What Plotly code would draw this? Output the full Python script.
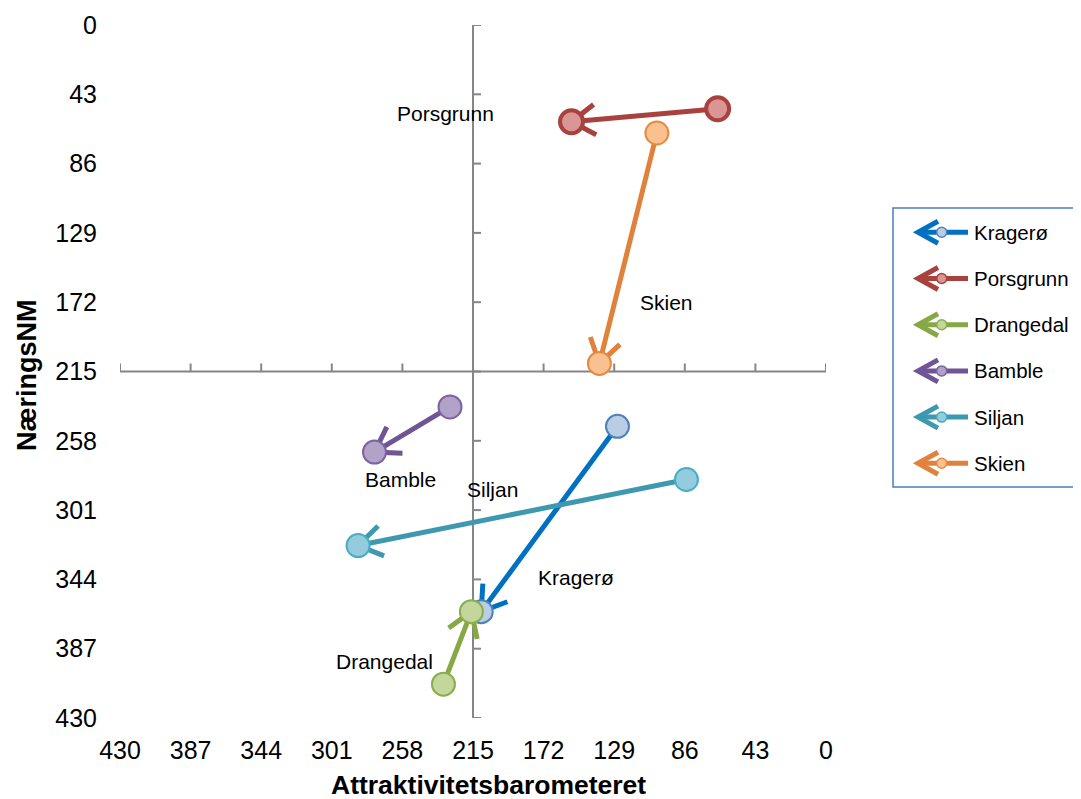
import math
import plotly.graph_objects as go

# ---------------- data ----------------
names = ["Kragerø", "Porsgrunn", "Drangedal", "Bamble", "Siljan", "Skien"]
x_start = [127, 66, 233, 229, 85, 103]     # Attraktivitetsbarometeret (start)
y_start = [249, 52, 409, 237, 282, 67]     # NæringsNM (start)
x_end = [210, 155, 216, 275, 285, 138]     # Attraktivitetsbarometeret (end)
y_end = [364, 60, 364, 265, 323, 210]      # NæringsNM (end)

label_x = [152, 232, 269, 259, 203, 97]
label_y = [343, 55, 395, 282, 288, 172]

tick_vals = [0, 43, 86, 129, 172, 215, 258, 301, 344, 387, 430]
tick_text = [str(v) for v in tick_vals]
axis_cross = 215

# ---------------- styles ----------------
line_colors = ["#0070C0", "#A9423F", "#86A846", "#6F5596", "#3E98B0", "#E0823C"]
fill_colors = ["#B9CDE5", "#D99694", "#C3D69B", "#B3A2C7", "#93CDDD", "#FAC090"]
edge_colors = ["#4F81BD", "#A9423F", "#8AAE4E", "#7B63A1", "#4BACC6", "#E68A3E"]
edge_widths = [2, 4, 2, 2, 2, 2]

OFF = 8  # page body margin
W, H = 1081 - OFF, 799 - OFF
PW, PH = 706, 693
ML, MT = 120 - OFF, 25 - OFF
MR = W - ML - PW
MB = H - MT - PH
XR = [430, 0]
YR = [430, 0]
kx = PW / abs(XR[0] - XR[1])
ky = PH / abs(YR[0] - YR[1])
FONT = "Liberation Sans, Arial, sans-serif"


def wings(xs, ys, xe, ye, length=28, ang=33):
    # direction (pixel space) from end back to start
    dx = -(xs - xe) * kx
    dy = (ys - ye) * ky
    n = math.hypot(dx, dy)
    dx, dy = dx / n, dy / n
    pts = []
    for s in (1, -1):
        a = math.radians(ang * s)
        wx = (dx * math.cos(a) - dy * math.sin(a)) * length
        wy = (dx * math.sin(a) + dy * math.cos(a)) * length
        pts.append((xe - wx / kx, ye + wy / ky))
    return pts


fig = go.Figure()

for i, nm in enumerate(names):
    (w1x, w1y), (w2x, w2y) = wings(x_start[i], y_start[i], x_end[i], y_end[i])
    fig.add_trace(go.Scatter(
        x=[x_start[i], x_end[i], None, w1x, x_end[i], w2x],
        y=[y_start[i], y_end[i], None, w1y, y_end[i], w2y],
        mode="lines", line=dict(color=line_colors[i], width=5),
        hoverinfo="skip", showlegend=False))
    fig.add_trace(go.Scatter(
        x=[x_start[i], x_end[i]], y=[y_start[i], y_end[i]], name=nm,
        mode="markers",
        marker=dict(size=23, color=fill_colors[i],
                    line=dict(color=edge_colors[i], width=edge_widths[i])),
        showlegend=False))

# data labels
for i, nm in enumerate(names):
    fig.add_annotation(x=label_x[i], y=label_y[i], text=nm, showarrow=False,
                       xref="x", yref="y", font=dict(family=FONT, size=21, color="#000000"))

shapes = []
AX = "#868686"
# crossing axes
shapes.append(dict(type="line", xref="x", yref="y", x0=axis_cross, x1=axis_cross,
                   y0=YR[0], y1=YR[1], line=dict(color=AX, width=2), layer="below"))
shapes.append(dict(type="line", xref="x", yref="y", x0=XR[0], x1=XR[1],
                   y0=axis_cross, y1=axis_cross, line=dict(color=AX, width=2), layer="below"))
for t in tick_vals:
    shapes.append(dict(type="line", xref="x", yref="y", xsizemode="pixel", xanchor=axis_cross,
                       x0=0, x1=8, y0=t, y1=t, line=dict(color=AX, width=2), layer="below"))
    shapes.append(dict(type="line", xref="x", yref="y", ysizemode="pixel", yanchor=axis_cross,
                       y0=0, y1=8, x0=t, x1=t, line=dict(color=AX, width=2), layer="below"))


# custom legend (screen pixel -> paper helpers)
def px(xp):
    return (xp - OFF - ML) / PW


def py(yp):
    return (H - MB - (yp - OFF)) / PH


shapes.append(dict(type="rect", xref="paper", yref="paper", x0=px(893), x1=px(1079.5),
                   y0=py(487), y1=py(208), line=dict(color="#4A7EBB", width=1.5),
                   fillcolor="white"))
for i, nm in enumerate(names):
    yc = 232.3 + 46.2 * i
    c = line_colors[i]
    shapes.append(dict(type="line", xref="paper", yref="paper", x0=px(918), x1=px(968),
                       y0=py(yc), y1=py(yc), line=dict(color=c, width=5)))
    path = "M %f,%f L %f,%f L %f,%f" % (px(938), py(yc - 11), px(918), py(yc),
                                          px(938), py(yc + 11))
    shapes.append(dict(type="path", xref="paper", yref="paper", path=path,
                       line=dict(color=c, width=5)))
    shapes.append(dict(type="circle", xref="paper", yref="paper",
                       x0=px(936.7), x1=px(946.7), y0=py(yc + 5), y1=py(yc - 5),
                       fillcolor=fill_colors[i], line=dict(color=edge_colors[i], width=1.5)))
    fig.add_annotation(x=px(972), y=py(yc), xref="paper", yref="paper", text=nm,
                       showarrow=False, xanchor="left", yanchor="middle",
                       font=dict(family=FONT, size=20.5, color="#000000"))

# axis titles
fig.add_annotation(x=px(489), y=py(785), xref="paper", yref="paper",
                   text="<b>Attraktivitetsbarometeret</b>", showarrow=False,
                   xanchor="center", yanchor="middle",
                   font=dict(family=FONT, size=26.5, color="#000000"))
fig.add_annotation(x=px(27), y=py(375), xref="paper", yref="paper",
                   text="<b>NæringsNM</b>", showarrow=False, textangle=-90,
                   xanchor="center", yanchor="middle",
                   font=dict(family=FONT, size=27, color="#000000"))

fig.update_layout(
    width=W, height=H,
    margin=dict(l=ML, r=MR, t=MT, b=MB, autoexpand=False),
    plot_bgcolor="white", paper_bgcolor="white",
    showlegend=False, shapes=shapes,
    font=dict(family=FONT, color="#000000"),
    xaxis=dict(range=XR, tickvals=tick_vals, ticktext=tick_text, showgrid=False,
               zeroline=False, showline=False, ticks="", ticklabelstandoff=15,
               automargin=False,
               tickfont=dict(family=FONT, size=25, color="#000000")),
    yaxis=dict(range=YR, tickvals=tick_vals, ticktext=tick_text, showgrid=False,
               zeroline=False, showline=False, ticks="", ticklabelstandoff=22,
               automargin=False,
               tickfont=dict(family=FONT, size=25, color="#000000")),
)

fig.write_html("out.html")
